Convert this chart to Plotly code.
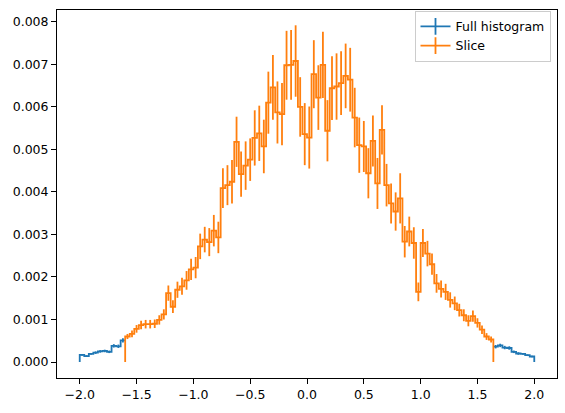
import numpy as np
import plotly.graph_objects as go

# Histogram binning (100 bins of width 0.04 from -2 to 2)
BIN_LO = -2.0
BIN_HI = 2.0
N_BINS = 100

# Slice range (bin edges)
SLICE_LO = -1.6
SLICE_HI = 1.64

# Bin contents
full_values = [
    0.00017, 0.00014, 0.00019, 0.00022, 0.00025, 0.00026, 0.00024, 0.00038, 0.00037, 0.00051,
    0.00060, 0.00066, 0.00078, 0.00087, 0.00089, 0.00089, 0.00090, 0.00099, 0.00112, 0.00162,
    0.00130, 0.00170, 0.00178, 0.00192, 0.00218, 0.00222, 0.00272, 0.00288, 0.00282, 0.00309,
    0.00293, 0.00409, 0.00416, 0.00424, 0.00518, 0.00442, 0.00462, 0.00476, 0.00527, 0.00538,
    0.00507, 0.00610, 0.00646, 0.00587, 0.00583, 0.00698, 0.00699, 0.00708, 0.00600, 0.00536,
    0.00528, 0.00677, 0.00622, 0.00699, 0.00544, 0.00644, 0.00648, 0.00656, 0.00673, 0.00664,
    0.00575, 0.00510, 0.00507, 0.00444, 0.00520, 0.00420, 0.00546, 0.00416, 0.00373, 0.00354,
    0.00385, 0.00283, 0.00307, 0.00280, 0.00165, 0.00280, 0.00255, 0.00230, 0.00185, 0.00172,
    0.00165, 0.00146, 0.00138, 0.00122, 0.00110, 0.00097, 0.00108, 0.00092, 0.00076, 0.00060,
    0.00053, 0.00036, 0.00039, 0.00034, 0.00033, 0.00024, 0.00020, 0.00019, 0.00016, 0.00013,
]

full_errors = [
    0.00002, 0.00002, 0.00002, 0.00003, 0.00003, 0.00003, 0.00003, 0.00004, 0.00004, 0.00005,
    0.00006, 0.00008, 0.00009, 0.00010, 0.00010, 0.00010, 0.00010, 0.00011, 0.00012, 0.00018,
    0.00015, 0.00019, 0.00020, 0.00022, 0.00025, 0.00025, 0.00030, 0.00030, 0.00033, 0.00037,
    0.00037, 0.00047, 0.00047, 0.00051, 0.00059, 0.00053, 0.00057, 0.00050, 0.00065, 0.00065,
    0.00063, 0.00073, 0.00076, 0.00073, 0.00073, 0.00081, 0.00082, 0.00084, 0.00070, 0.00073,
    0.00073, 0.00080, 0.00076, 0.00078, 0.00072, 0.00075, 0.00078, 0.00075, 0.00076, 0.00075,
    0.00070, 0.00065, 0.00060, 0.00059, 0.00060, 0.00060, 0.00058, 0.00050, 0.00047, 0.00045,
    0.00059, 0.00037, 0.00035, 0.00037, 0.00022, 0.00033, 0.00030, 0.00025, 0.00022, 0.00020,
    0.00019, 0.00018, 0.00016, 0.00015, 0.00014, 0.00013, 0.00013, 0.00011, 0.00010, 0.00008,
    0.00007, 0.00004, 0.00004, 0.00004, 0.00004, 0.00003, 0.00003, 0.00002, 0.00002, 0.00002,
]

x_ticks = [-2.0, -1.5, -1.0, -0.5, 0.0, 0.5, 1.0, 1.5, 2.0]
y_ticks = [0.000, 0.001, 0.002, 0.003, 0.004, 0.005, 0.006, 0.007, 0.008]

labels = ["Full histogram", "Slice"]
colors = ["#1f77b4", "#ff7f0e"]

edges = np.linspace(BIN_LO, BIN_HI, N_BINS + 1)
centers = 0.5 * (edges[:-1] + edges[1:])
vals = np.array(full_values)
errs = np.array(full_errors)

i0 = int(np.argmin(np.abs(edges - SLICE_LO)))
i1 = int(np.argmin(np.abs(edges - SLICE_HI)))

LW = 1.8

# bins of the full histogram that are drawn over by the slice
covered = np.zeros(N_BINS, dtype=bool)
covered[i0:i1] = True


def step_path(e, v, visible):
    """Step outline (edges drawn down to zero at both ends), only for visible bins."""
    xs, ys = [], []
    n = len(v)
    k = 0
    while k < n:
        if not visible[k]:
            k += 1
            continue
        start = k
        while k < n and visible[k]:
            k += 1
        stop = k  # exclusive
        if xs:
            xs.append(None)
            ys.append(None)
        if start == 0:
            xs.append(e[0])
            ys.append(0.0)
        for j in range(start, stop):
            xs.append(e[j])
            ys.append(v[j])
        xs.append(e[stop])
        ys.append(v[stop - 1])
        if stop == n:
            xs.append(e[stop])
            ys.append(0.0)
    return xs, ys


def add_hist(fig, e, v, err, c, color, name, visible):
    xs, ys = step_path(e, v, visible)
    fig.add_trace(go.Scatter(x=xs, y=ys, mode="lines", line=dict(color=color, width=LW, shape="hv"),
                             connectgaps=False, showlegend=False, hoverinfo="skip"))
    fig.add_trace(go.Scatter(x=c[visible], y=v[visible], mode="markers",
                             marker=dict(size=0, color="rgba(0,0,0,0)"),
                             error_y=dict(type="data", array=err[visible], visible=True, color=color,
                                          thickness=LW, width=0),
                             showlegend=False, hoverinfo="skip"))
    fig.add_trace(go.Scatter(x=[None], y=[None], mode="lines+markers", name=name,
                             line=dict(color=color, width=LW),
                             marker=dict(symbol="line-ns-open", size=12, color=color,
                                         line=dict(color=color, width=LW))))


fig = go.Figure()
add_hist(fig, edges, vals, errs, centers, colors[0], labels[0], ~covered)
add_hist(fig, edges[i0:i1 + 1], vals[i0:i1], errs[i0:i1], centers[i0:i1], colors[1], labels[1],
         np.ones(i1 - i0, dtype=bool))

axis_common = dict(showline=True, linecolor="black", linewidth=1, mirror=True,
                   ticks="outside", ticklen=5, tickwidth=1, tickcolor="black",
                   showgrid=False, zeroline=False, automargin=False,
                   tickfont=dict(family="DejaVu Sans", size=12.5, color="black"))

fig.update_layout(
    template="none",
    width=565, height=413,
    margin=dict(l=57, r=8, t=10, b=35, pad=0),
    paper_bgcolor="white", plot_bgcolor="white",
    font=dict(family="DejaVu Sans", size=12.5, color="black"),
    xaxis=dict(range=[-2.2, 2.2], tickvals=x_ticks,
               ticktext=[f"{t:.1f}".replace("-", "\u2212") for t in x_ticks], **axis_common),
    yaxis=dict(range=[-0.000376, 0.00828], tickvals=y_ticks,
               ticktext=[f"{t:.3f}" for t in y_ticks], **axis_common),
    legend=dict(x=0.987, y=0.998, xanchor="right", yanchor="top",
                bgcolor="rgba(255,255,255,0.8)", bordercolor="#cccccc", borderwidth=1,
                font=dict(family="DejaVu Sans", size=12.5, color="black"),
                itemwidth=30, tracegroupgap=0),
)

fig.write_html("out.html", config={"displayModeBar": False},
               post_script="document.body.style.margin='0';")
